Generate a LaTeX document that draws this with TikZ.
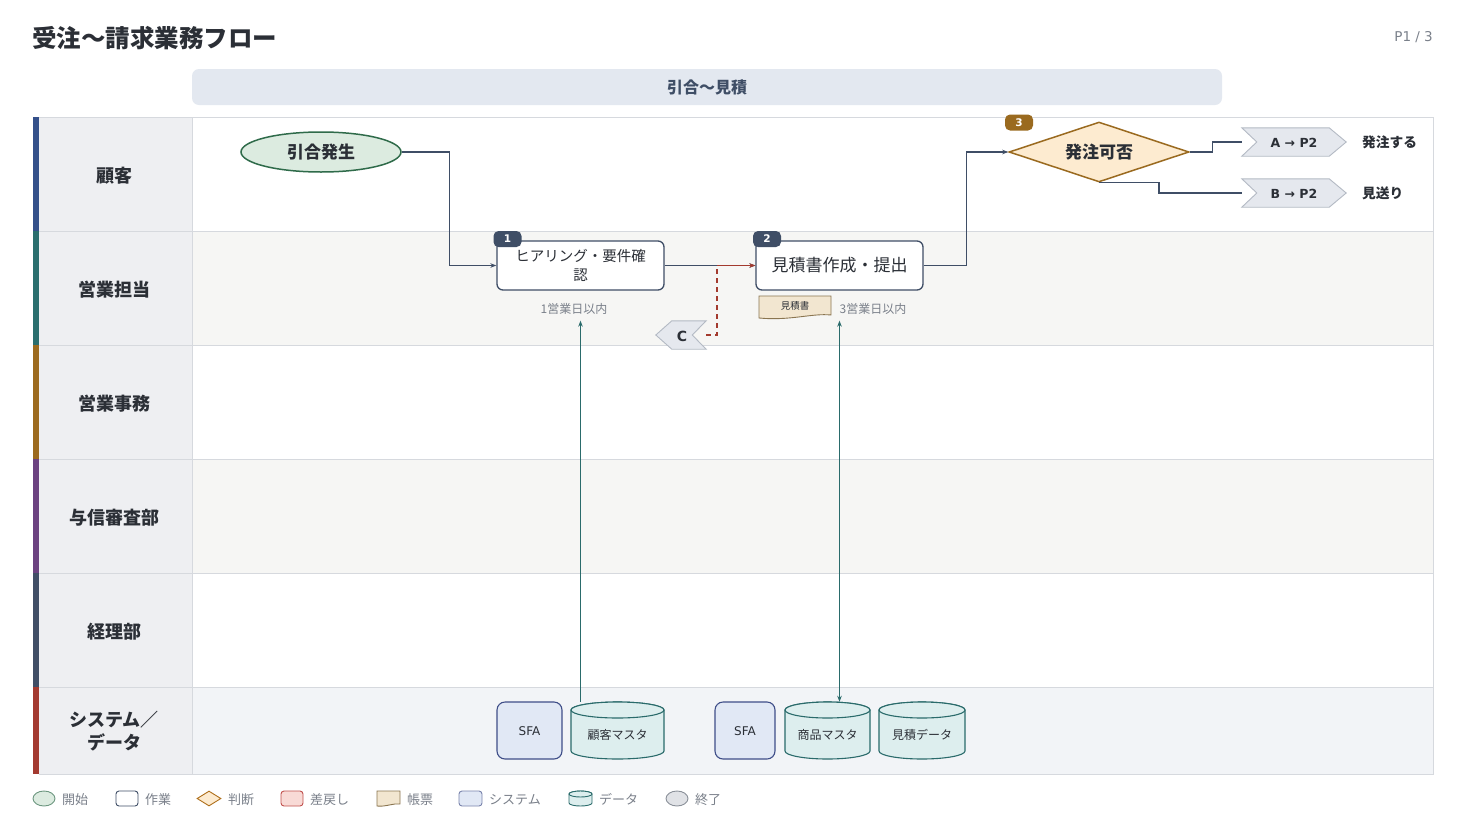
\documentclass[tikz,border=0pt]{standalone}
\usepackage{fontspec}
\setmainfont{Noto Sans CJK JP}
\newfontfamily\dvs{DejaVu Sans}
\usetikzlibrary{shapes.geometric,calc,arrows.meta}
\definecolor{ink}{HTML}{2B2F36}
\definecolor{slate}{HTML}{3F4E66}
\definecolor{grid}{HTML}{D6D9DE}
\definecolor{labbg}{HTML}{EEEFF2}
\definecolor{laneg}{HTML}{F6F6F4}
\definecolor{lanes}{HTML}{F2F4F7}
\definecolor{hdr}{HTML}{E3E8F0}
\definecolor{cA}{HTML}{34508A}
\definecolor{cB}{HTML}{2A6E6E}
\definecolor{cC}{HTML}{9C6A1E}
\definecolor{cD}{HTML}{6B4280}
\definecolor{cE}{HTML}{404E66}
\definecolor{cF}{HTML}{A33A30}
\definecolor{startfill}{HTML}{DCEBE0}
\definecolor{startdraw}{HTML}{2F6B4A}
\definecolor{decfill}{HTML}{FDEBD0}
\definecolor{decdraw}{HTML}{9A6A1F}
\definecolor{sysfill}{HTML}{E1E8F5}
\definecolor{sysdraw}{HTML}{3F4E88}
\definecolor{dbfill}{HTML}{DDEEEE}
\definecolor{dbdraw}{HTML}{2A6B6B}
\definecolor{docfill}{HTML}{F2E6D0}
\definecolor{docdraw}{HTML}{8A7550}
\definecolor{chevfill}{HTML}{E5E8EE}
\definecolor{chevdraw}{HTML}{B4BAC4}
\definecolor{retred}{HTML}{A33A2E}
\definecolor{note}{HTML}{7A808A}
\definecolor{redfill}{HTML}{F8DAD6}
\definecolor{reddraw}{HTML}{C0504D}
\definecolor{endfill}{HTML}{E0E2E6}
\definecolor{enddraw}{HTML}{8A9099}
\newcommand\drawcyl[6]{% style, x1, y1, x2, y2, ry
  \pgfmathsetmacro\cylrx{(#4-#2)/2}%
  \pgfmathsetmacro\cylcx{(#4+#2)/2}%
  \path[#1] (#2,#3+#6) -- (#2,#5-#6) arc[start angle=180,end angle=0,x radius=\cylrx,y radius=#6] -- (#4,#3+#6) arc[start angle=0,end angle=-180,x radius=\cylrx,y radius=#6] -- cycle;
  \path[#1] (\cylcx,#3+#6) ellipse[x radius=\cylrx, y radius=#6];
}
\begin{document}
\begin{tikzpicture}[x=1pt,y=-1pt,
  lanelab/.style={font=\fontsize{18}{23}\selectfont\bfseries, text=ink, align=center},
  proc/.style={draw=slate, fill=white, line width=1.3pt, rounded corners=6pt, minimum width=167pt, minimum height=49pt, inner sep=2pt, align=center, text=ink},
  badge/.style={fill=#1, rounded corners=5pt, minimum width=28pt, minimum height=16pt, inner sep=0pt, text=white, font=\dvs\fontsize{10.5}{10}\selectfont\bfseries},
  conn/.style={draw=slate, line width=1.1pt, -{Stealth[length=6pt,width=4.5pt]}},
  plain/.style={draw=slate, line width=1.1pt},
  ret/.style={draw=retred, line width=1.1pt, dash pattern=on 5pt off 4pt},
  datac/.style={draw=dbdraw, line width=1.1pt},
  notetxt/.style={font=\fontsize{12}{13}\selectfont, text=note},
  chevtxt/.style={minimum width=104pt, minimum height=28pt, inner sep=0pt},
  chev/.style={fill=chevfill, draw=chevdraw, line width=0.9pt},
  dbbox/.style={minimum height=57pt, inner sep=0pt},
  dbtxt/.style={font=\fontsize{12}{13}\selectfont, text=ink, inner sep=0pt},
  legtxt/.style={font=\fontsize{13}{14}\selectfont, text=note, anchor=west, inner sep=0pt}
]
\useasboundingbox (0,0) rectangle (1467,825);
\fill[white] (0,0) rectangle (1467,825);

% title
\node[anchor=west, inner sep=0pt, font=\fontsize{24.5}{28}\selectfont\bfseries, text=ink] (title) at (32,38) {受注〜請求業務フロー};
\node[anchor=east, inner sep=0pt, font=\dvs\fontsize{13.5}{16}\selectfont, text=note] (page) at (1433,37) {P1 / 3};

% phase header
\node[fill=hdr, rounded corners=7pt, minimum width=1030pt, minimum height=36pt, inner sep=0pt, font=\fontsize{16}{17}\selectfont\bfseries, text=slate] (phase) at (707,87) {引合〜見積};

% lanes
\fill[white] (192,117) rectangle (1433,231);
\fill[laneg] (192,231) rectangle (1433,345);
\fill[white] (192,345) rectangle (1433,459);
\fill[laneg] (192,459) rectangle (1433,573);
\fill[white] (192,573) rectangle (1433,687);
\fill[lanes] (192,687) rectangle (1433,774);
\fill[labbg] (39,117) rectangle (192,774);
\fill[cA] (33,117) rectangle (39,231);
\fill[cB] (33,231) rectangle (39,345);
\fill[cC] (33,345) rectangle (39,459);
\fill[cD] (33,459) rectangle (39,573);
\fill[cE] (33,573) rectangle (39,687);
\fill[cF] (33,687) rectangle (39,774);
\foreach \yy in {231,345,459,573,687} \draw[grid, line width=0.8pt] (39,\yy) -- (1433,\yy);
\draw[grid, line width=0.8pt] (192,117) -- (192,774);
\draw[grid, line width=0.8pt] (39,117) -- (1433,117) -- (1433,774) -- (39,774);

\node[lanelab] (lane1) at (114,175.5) {顧客};
\node[lanelab] (lane2) at (114,289.5) {営業担当};
\node[lanelab] (lane3) at (114,403.5) {営業事務};
\node[lanelab] (lane4) at (114,517.5) {与信審査部};
\node[lanelab] (lane5) at (114,631.5) {経理部};
\node[lanelab] (lane6) at (114,731.5) {システム／\\データ};

% start
\node[ellipse, fill=startfill, draw=startdraw, line width=1.5pt, minimum width=160pt, minimum height=40pt, inner sep=0pt, font=\fontsize{17}{18}\selectfont\bfseries, text=ink] (start) at (321,152) {引合発生};

% processes
\node[proc, font=\fontsize{14.5}{19}\selectfont] (p1) at (580.5,265.5) {ヒアリング・要件確\\認};
\node[proc, font=\fontsize{17}{20}\selectfont] (p2) at (839.5,265.5) {見積書作成・提出};
\node[badge=slate] (b1) at (507.5,239) {1};
\node[badge=slate] (b2) at (767,239) {2};

% notes
\node[notetxt] (n1) at (574,309) {1営業日以内};
\node[notetxt] (n2) at (873,309) {3営業日以内};
\fill[docfill] (759,296) -- (831,296) -- (831,315) .. controls (812,313) and (790,321) .. (759,318) -- cycle;
\draw[docdraw, line width=0.9pt] (759,296) -- (831,296) -- (831,315) .. controls (812,313) and (790,321) .. (759,318) -- cycle;
\node[font=\fontsize{9.5}{10}\selectfont, text=ink, inner sep=0pt] (doc1) at (795,305.5) {見積書};

% decision
\node[diamond, aspect=3, fill=decfill, draw=decdraw, line width=1.5pt, minimum width=180pt, minimum height=60pt, inner sep=0pt, font=\fontsize{17}{18}\selectfont\bfseries, text=ink] (dec) at (1099,152) {発注可否};
\node[badge=decdraw] (b3) at (1019,122.5) {3};

% off-page chevrons
\node[chevtxt] (A) at (1294,142) {};
\node[chevtxt] (B) at (1294,193) {};
\path[chev] (A.north west) -- ($(A.north east)+(-17,0)$) -- (A.east) -- ($(A.south east)+(-17,0)$) -- (A.south west) -- ($(A.west)+(15,0)$) -- cycle;
\path[chev] (B.north west) -- ($(B.north east)+(-17,0)$) -- (B.east) -- ($(B.south east)+(-17,0)$) -- (B.south west) -- ($(B.west)+(15,0)$) -- cycle;
\node[font=\dvs\fontsize{12.5}{14}\selectfont\bfseries, text=ink] (At) at (1294,142.5) {A → P2};
\node[font=\dvs\fontsize{12.5}{14}\selectfont\bfseries, text=ink] (Bt) at (1294,193.5) {B → P2};
\node[anchor=west, inner sep=0pt, font=\fontsize{13.7}{14}\selectfont\bfseries, text=ink] (Al) at (1362,142) {発注する};
\node[anchor=west, inner sep=0pt, font=\fontsize{13.7}{14}\selectfont\bfseries, text=ink] (Bl) at (1362,193) {見送り};

% return chevron C
\node[chevtxt, minimum width=50pt] (C) at (681,335) {};
\path[chev] ($(C.north west)+(16,0)$) -- (C.north east) -- ($(C.east)+(-14,0)$) -- (C.south east) -- ($(C.south west)+(16,0)$) -- (C.west) -- cycle;
\node[font=\dvs\fontsize{14}{15}\selectfont\bfseries, text=ink] (Ct) at (682,336) {C};

% connectors
\draw[conn] (start.east) -- ++(48,0) |- (p1.west);
\draw[conn] (p1.east) -- (p2.west);
\draw[conn] (p2.east) -- ++(43,0) |- (dec.west);
\draw[plain] (dec.east) -- ++(23,0) |- (A.west);
\draw[plain] (dec.south) -- ++(60,0) |- (B.west);
\coordinate (cj) at (717,265.5);
\draw[ret] (C.east) -- (C.east -| cj) -- (cj);
\draw[draw=retred, line width=1.1pt, -{Stealth[length=6pt,width=4.5pt]}] (cj) -- (p2.west);

% systems and data
\node[fill=sysfill, draw=sysdraw, line width=1.1pt, rounded corners=8pt, minimum width=65pt, minimum height=57pt, inner sep=0pt] (sfa1) at (529.5,730.5) {};
\node[fill=sysfill, draw=sysdraw, line width=1.1pt, rounded corners=8pt, minimum width=60pt, minimum height=57pt, inner sep=0pt] (sfa2) at (745,730.5) {};
\node[font=\dvs\fontsize{12}{13}\selectfont, text=ink, inner sep=0pt] (sfa1t) at ($(sfa1.center)+(0,1)$) {SFA};
\node[font=\dvs\fontsize{12}{13}\selectfont, text=ink, inner sep=0pt] (sfa2t) at ($(sfa2.center)+(0,1)$) {SFA};
\drawcyl{fill=dbfill, draw=dbdraw, line width=1.1pt}{571}{702}{664}{759}{8}
\drawcyl{fill=dbfill, draw=dbdraw, line width=1.1pt}{785}{702}{870}{759}{8}
\drawcyl{fill=dbfill, draw=dbdraw, line width=1.1pt}{879}{702}{965}{759}{8}
\node[dbbox, minimum width=93pt] (db1) at (617.5,730.5) {};
\node[dbbox, minimum width=85pt] (db2) at (827.5,730.5) {};
\node[dbbox, minimum width=86pt] (db3) at (922,730.5) {};
\node[dbtxt] (db1t) at ($(db1.center)+(0,4.5)$) {顧客マスタ};
\node[dbtxt] (db2t) at ($(db2.center)+(0,4.5)$) {商品マスタ};
\node[dbtxt] (db3t) at ($(db3.center)+(0,4.5)$) {見積データ};

\coordinate (a1) at ($(p1.south)+(0,30)$);
\coordinate (a2) at ($(p2.south)+(0,30)$);
\draw[datac, -{Stealth[length=6pt,width=4.5pt]}] (db1.north -| p1.south) -- (a1);
\draw[datac, line width=1.4pt, {Stealth[length=6pt,width=4.5pt]}-{Stealth[length=6pt,width=4.5pt]}] (a2) -- (db2.north -| p2.south);

% legend
\node[ellipse, fill=startfill, draw=startdraw!70, line width=0.9pt, minimum width=22pt, minimum height=15pt, inner sep=0pt] (lg1) at (44,798.5) {};
\node[legtxt] (lt1) at (62,799.5) {開始};
\node[draw=slate, fill=white, line width=0.9pt, rounded corners=3pt, minimum width=22pt, minimum height=15pt, inner sep=0pt] (lg2) at (127,798.5) {};
\node[legtxt] (lt2) at (145,799.5) {作業};
\node[diamond, aspect=1.7, fill=decfill, draw=decdraw!80!orange, line width=0.9pt, minimum width=24pt, minimum height=15pt, inner sep=0pt] (lg3) at (209,798.5) {};
\node[legtxt] (lt3) at (228,799.5) {判断};
\node[draw=reddraw, fill=redfill, line width=0.9pt, rounded corners=3pt, minimum width=22pt, minimum height=15pt, inner sep=0pt] (lg4) at (292,798.5) {};
\node[legtxt] (lt4) at (310,799.5) {差戻し};
\fill[docfill] (377,791) -- (400,791) -- (400,804) .. controls (393,803) and (386,807) .. (377,806) -- cycle;
\draw[docdraw, line width=0.9pt] (377,791) -- (400,791) -- (400,804) .. controls (393,803) and (386,807) .. (377,806) -- cycle;
\node[legtxt] (lt5) at (407,799.5) {帳票};
\node[draw=sysdraw!70, fill=sysfill, line width=0.9pt, rounded corners=3pt, minimum width=23pt, minimum height=15pt, inner sep=0pt] (lg6) at (470.5,798.5) {};
\node[legtxt] (lt6) at (489,799.5) {システム};
\drawcyl{fill=dbfill, draw=dbdraw, line width=0.9pt}{569}{791}{592}{806}{3}
\node[legtxt] (lt7) at (599,799.5) {データ};
\node[ellipse, fill=endfill, draw=enddraw, line width=0.9pt, minimum width=22pt, minimum height=15pt, inner sep=0pt] (lg8) at (677,798.5) {};
\node[legtxt] (lt8) at (695,799.5) {終了};
\end{tikzpicture}
\end{document}
